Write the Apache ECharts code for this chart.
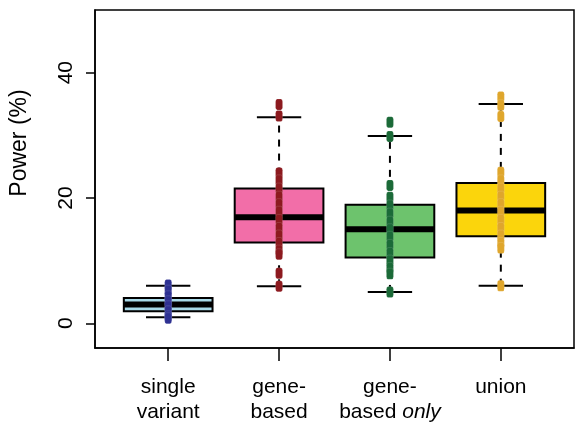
<!DOCTYPE html>
<html>
<head>
<meta charset="utf-8">
<script src="https://cdn.jsdelivr.net/npm/echarts@6/dist/echarts.min.js"></script>
<style>
html,body{margin:0;padding:0;background:#fff;}
#chart{width:575px;height:425px;}
</style>
</head>
<body>
<div id="chart"></div>
<script>
// ---- data ----
const categories = ['single\nvariant', 'gene-\nbased', 'gene-\nbased {i|only}', 'union'];
const whiskerLow  = [0.95, 5.9, 5.0, 6.0];
const quartile1   = [1.9, 12.9, 10.5, 13.9];
const medians     = [3.0, 16.9, 15.0, 18.0];
const quartile3   = [4.05, 21.5, 18.9, 22.4];
const whiskerHigh = [6.0, 32.9, 29.9, 35.0];
const pointsSingle    = [6.1, 5.2, 4.3, 3.5, 2.7, 1.9, 1.1, 0.8];
const pointsGene      = [34.9, 33.1, 24.0, 22.8, 21.5, 20.2, 19.0, 17.8, 16.5, 15.2, 14.0, 12.8, 11.6, 11.0, 8.0, 5.9];
const pointsGeneOnly  = [32.1, 29.8, 22.0, 20.1, 18.8, 17.5, 16.2, 15.0, 13.8, 12.5, 11.2, 10.0, 8.8, 7.9, 5.0];
const pointsUnion     = [36.1, 34.8, 33.0, 24.1, 22.8, 21.5, 20.2, 19.0, 17.8, 16.5, 15.2, 14.0, 12.8, 12.0, 6.0];
const yTicks = [0, 20, 40];
const xTicks = [1, 2, 3, 4];

const boxFill = ['#a8d9e8', '#f26ea8', '#6dc36d', '#fbd50c'];
const pointColor = ['#2e3192', '#8c1a1f', '#1b6a38', '#dfa62c'];
const FONT = '"Liberation Sans", Arial, Helvetica, sans-serif';

const boxData = categories.map((c, i) => [i + 1, whiskerLow[i], quartile1[i], medians[i], quartile3[i], whiskerHigh[i]]);
const pointGroups = [pointsSingle, pointsGene, pointsGeneOnly, pointsUnion];

function renderBox(params, api) {
  const x = api.value(0);
  const lo = api.value(1), q1 = api.value(2), md = api.value(3), q3 = api.value(4), hi = api.value(5);
  const halfW = api.size([0.8, 0])[0] / 2;
  const stapleHalf = halfW / 2;
  const c = v => api.coord([x, v]);
  const pLo = c(lo), pQ1 = c(q1), pMd = c(md), pQ3 = c(q3), pHi = c(hi);
  const cx = pMd[0];
  const fill = boxFill[params.dataIndex];
  const dashStyle = {stroke: '#000', lineWidth: 2, lineDash: [7, 7], fill: null};
  const solid = {stroke: '#000', lineWidth: 2, fill: null};
  return {
    type: 'group',
    children: [
      {type: 'line', shape: {x1: cx, y1: pQ3[1], x2: cx, y2: pHi[1]}, style: dashStyle},
      {type: 'line', shape: {x1: cx, y1: pLo[1], x2: cx, y2: pQ1[1]}, style: dashStyle},
      {type: 'line', shape: {x1: cx - stapleHalf, y1: pHi[1], x2: cx + stapleHalf, y2: pHi[1]}, style: solid},
      {type: 'line', shape: {x1: cx - stapleHalf, y1: pLo[1], x2: cx + stapleHalf, y2: pLo[1]}, style: solid},
      {type: 'rect', shape: {x: cx - halfW, y: pQ3[1], width: 2 * halfW, height: pQ1[1] - pQ3[1]},
        style: {fill: fill, stroke: '#000', lineWidth: 2}},
      {type: 'line', shape: {x1: cx - halfW, y1: pMd[1], x2: cx + halfW, y2: pMd[1]},
        style: {stroke: '#000', lineWidth: 6}}
    ]
  };
}

const series = [{
  type: 'custom',
  renderItem: renderBox,
  data: boxData,
  encode: {x: 0, y: [1, 2, 3, 4, 5]},
  z: 2,
  silent: true
}];
pointGroups.forEach((pts, i) => {
  series.push({
    type: 'scatter',
    data: pts.map(v => [i + 1, v]),
    symbol: 'roundRect',
    symbolSize: [7, 11],
    itemStyle: {color: pointColor[i], borderColor: 'rgba(255,255,255,0.25)', borderWidth: 0.5, opacity: 1},
    z: 5,
    silent: true
  });
});

const chart = echarts.init(document.getElementById('chart'), null, {renderer: 'canvas'});
chart.setOption({
  animation: false,
  backgroundColor: '#fff',
  grid: {left: 95, right: 1, top: 10, bottom: 73, show: true, borderColor: '#000', borderWidth: 1.5, backgroundColor: 'transparent'},
  xAxis: {
    type: 'value', min: 0.34, max: 4.66,
    axisLine: {show: true, onZero: false, lineStyle: {color: '#000', width: 1.5}},
    axisTick: {show: true, customValues: xTicks, length: 13, lineStyle: {color: '#000', width: 1.5}},
    splitLine: {show: false},
    axisLabel: {
      customValues: xTicks, margin: 27,
      formatter: v => categories[Math.round(v) - 1],
      color: '#000', fontSize: 21, fontFamily: FONT, lineHeight: 25,
      rich: {i: {fontStyle: 'italic', fontSize: 21, fontFamily: FONT, color: '#000', lineHeight: 25}}
    }
  },
  yAxis: {
    type: 'value', min: -3.95, max: 50,
    axisLine: {show: true, onZero: false, lineStyle: {color: '#000', width: 1.5}},
    axisTick: {show: true, customValues: yTicks, length: 9, lineStyle: {color: '#000', width: 1.5}},
    splitLine: {show: false},
    axisLabel: {customValues: yTicks, rotate: 90, margin: 18, color: '#000', fontSize: 21, fontFamily: FONT}
  },
  graphic: [{
    type: 'text', x: 20, y: 143, rotation: Math.PI / 2,
    style: {text: 'Power (%)', fontSize: 23, fontFamily: FONT, fill: '#000', align: 'center', verticalAlign: 'middle'}
  }],
  series: series
});
</script>
</body>
</html>
